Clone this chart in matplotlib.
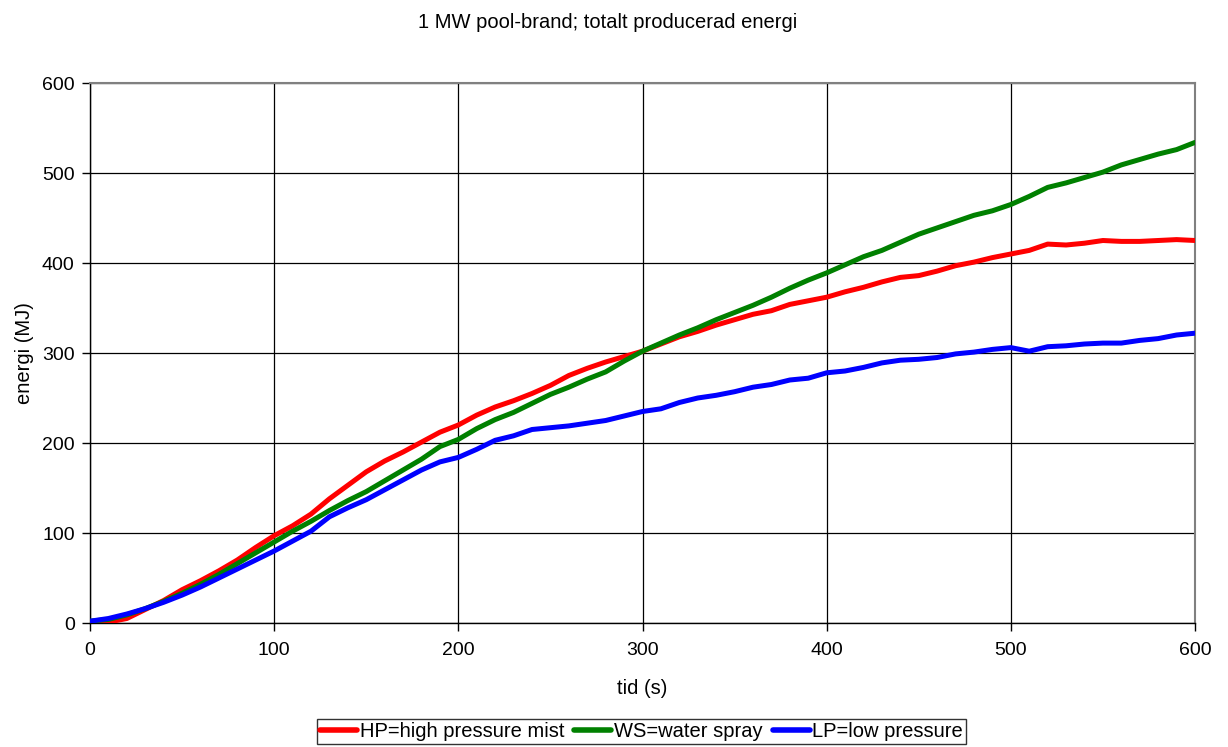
import matplotlib
matplotlib.use("Agg")
import matplotlib.pyplot as plt
import numpy as np

plt.rcParams['font.family'] = ['Liberation Sans', 'DejaVu Sans']

# time (s)
tid = list(range(0, 601, 10))

hp_mist = [0, 1, 5, 15, 25, 37, 47, 58, 70, 84,
           97, 108, 121, 138, 153, 168, 180, 190, 201, 212,
           220, 231, 240, 247, 255, 264, 275, 283, 290, 296,
           302, 310, 318, 324, 331, 337, 343, 347, 354, 358,
           362, 368, 373, 379, 384, 386, 391, 397, 401, 406,
           410, 414, 421, 420, 422, 425, 424, 424, 425, 426,
           425]

ws_spray = [2, 4, 9, 16, 24, 33, 43, 54, 66, 78,
            90, 102, 113, 125, 136, 146, 158, 170, 182, 196,
            204, 216, 226, 234, 244, 254, 262, 271, 279, 291,
            302, 311, 320, 328, 337, 345, 353, 362, 372, 381,
            389, 398, 407, 414, 423, 432, 439, 446, 453, 458,
            465, 474, 484, 489, 495, 501, 509, 515, 521, 526,
            534]

lp_low = [2, 5, 10, 16, 23, 31, 40, 50, 60, 70,
          80, 91, 102, 118, 128, 137, 148, 159, 170, 179,
          184, 193, 203, 208, 215, 217, 219, 222, 225, 230,
          235, 238, 245, 250, 253, 257, 262, 265, 270, 272,
          278, 280, 284, 289, 292, 293, 295, 299, 301, 304,
          306, 302, 307, 308, 310, 311, 311, 314, 316, 320,
          322]

series_labels = ["HP=high pressure mist", "WS=water spray", "LP=low pressure"]
series_colors = ["#ff0000", "#008000", "#0000ff"]

W, H = 1228, 747
fig = plt.figure(figsize=(W / 100, H / 100), dpi=100)
ax = fig.add_axes([90 / W, 1 - 623 / H, (1195 - 90) / W, (623 - 83) / H])

for vals, lab, col in zip([hp_mist, ws_spray, lp_low], series_labels, series_colors):
    ax.plot(tid, vals, color=col, lw=3.6, label=lab, solid_capstyle='round',
            solid_joinstyle='round', zorder=3)

ax.set_xlim(0, 600)
ax.set_ylim(0, 600)
ax.set_xticks(np.arange(0, 601, 100))
ax.set_yticks(np.arange(0, 601, 100))
ax.grid(True, color='black', lw=0.9)
ax.set_axisbelow(True)

for side in ['left', 'bottom']:
    ax.spines[side].set_color('black')
    ax.spines[side].set_linewidth(1.0)
for side in ['top', 'right']:
    ax.spines[side].set_color('#808080')
    ax.spines[side].set_linewidth(1.5)

tick_fs = 14
label_fs = 14.5
ax.tick_params(axis='both', direction='out', length=6, width=1, labelsize=tick_fs, colors='black')
ax.tick_params(axis='x', pad=8)
ax.tick_params(axis='y', pad=5)

ax.set_xlabel("tid (s)", fontsize=label_fs, labelpad=14)
ax.set_ylabel("energi (MJ)", fontsize=label_fs, labelpad=6)

fig.text(608 / W, 1 - 22 / H, "1 MW pool-brand; totalt producerad energi",
         ha='center', va='center', fontsize=14.5)

leg = fig.legend(loc='upper center', bbox_to_anchor=(641.5 / W, 1 - 719 / H),
                 ncol=3, fontsize=label_fs, frameon=True, fancybox=False,
                 edgecolor='black', handlelength=1.85, handletextpad=0.12,
                 columnspacing=0.5, borderpad=0.15, borderaxespad=0)
leg.get_frame().set_linewidth(1.0)
for line in leg.get_lines():
    line.set_linewidth(4)

fig.savefig("out.png", dpi=100)
